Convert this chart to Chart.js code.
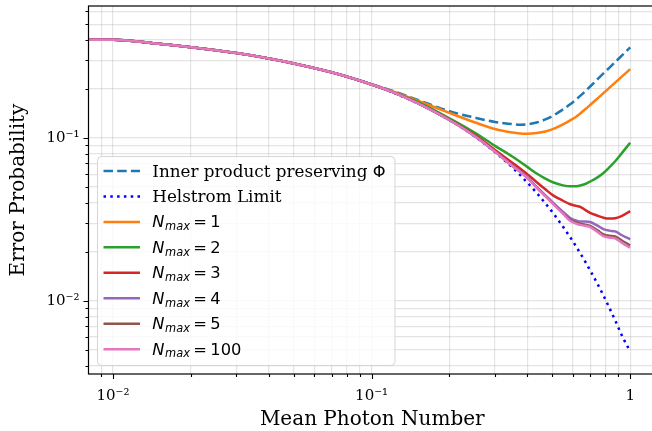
<!DOCTYPE html>
<html><head><meta charset="utf-8">
<script src="https://cdn.jsdelivr.net/npm/chart.js@4/dist/chart.umd.min.js"></script>
<style>html,body{margin:0;padding:0;background:#fff;overflow:hidden;}#wrap{width:656px;height:431px;}</style>
</head><body><div id="wrap"><canvas id="c" width="656" height="431"></canvas></div>
<script>
// ---- data ----
const photonNumbers = [0.008, 0.01, 0.015, 0.02, 0.03, 0.04, 0.05, 0.07, 0.1, 0.12, 0.15, 0.2, 0.25, 0.3, 0.35, 0.375, 0.4, 0.435, 0.47, 0.505, 0.55, 0.586, 0.62, 0.641, 0.67, 0.7, 0.75, 0.788, 0.83, 0.875, 0.93, 1.0];
const innerProductPhi = [0.401, 0.401, 0.379, 0.361, 0.332, 0.308, 0.287, 0.253, 0.214, 0.195, 0.172, 0.146, 0.1335, 0.1255, 0.1218, 0.1207, 0.1213, 0.1245, 0.130, 0.1375, 0.1498, 0.161, 0.1732, 0.1815, 0.1936, 0.2071, 0.2306, 0.249, 0.2698, 0.2924, 0.3215, 0.3596];
const helstromLimit = [0.401, 0.401, 0.379, 0.361, 0.332, 0.308, 0.287, 0.253, 0.213, 0.191, 0.164, 0.129, 0.1025, 0.082, 0.066, 0.0593, 0.0533, 0.046, 0.0397, 0.0344, 0.0285, 0.0246, 0.0214, 0.0196, 0.01745, 0.0154, 0.0126, 0.0108, 0.0091, 0.0076, 0.0061, 0.0049];
const nmax1 = [0.401, 0.401, 0.379, 0.361, 0.332, 0.308, 0.287, 0.253, 0.213, 0.194, 0.170, 0.1425, 0.125, 0.1135, 0.108, 0.1066, 0.1063, 0.1072, 0.1095, 0.1138, 0.1212, 0.1283, 0.1356, 0.1414, 0.150, 0.1594, 0.1757, 0.1885, 0.203, 0.2189, 0.2387, 0.2645];
const nmax2 = [0.401, 0.401, 0.379, 0.361, 0.332, 0.308, 0.287, 0.253, 0.213, 0.192, 0.167, 0.132, 0.108, 0.0895, 0.077, 0.0715, 0.0665, 0.0605, 0.0563, 0.0533, 0.0512, 0.0505, 0.0506, 0.0511, 0.0522, 0.054, 0.0575, 0.061, 0.066, 0.072, 0.081, 0.0935];
const nmax3 = [0.401, 0.401, 0.379, 0.361, 0.332, 0.308, 0.287, 0.253, 0.213, 0.192, 0.165, 0.1298, 0.1045, 0.0845, 0.0705, 0.065, 0.060, 0.0535, 0.0484, 0.0443, 0.0412, 0.0392, 0.0383, 0.0378, 0.0362, 0.0347, 0.0333, 0.0324, 0.0320, 0.0322, 0.0333, 0.0356];
const nmax4 = [0.401, 0.401, 0.379, 0.361, 0.332, 0.308, 0.287, 0.253, 0.213, 0.192, 0.1645, 0.129, 0.1032, 0.0828, 0.0678, 0.0624, 0.0575, 0.0500, 0.0445, 0.0398, 0.0352, 0.0323, 0.0311, 0.0307, 0.0307, 0.0305, 0.0289, 0.0276, 0.0270, 0.0267, 0.0253, 0.0239];
const nmax5 = [0.401, 0.401, 0.379, 0.361, 0.332, 0.308, 0.287, 0.253, 0.213, 0.192, 0.1643, 0.129, 0.103, 0.0826, 0.0675, 0.0622, 0.0572, 0.0497, 0.0441, 0.0394, 0.0346, 0.0315, 0.0302, 0.0298, 0.0294, 0.0289, 0.0270, 0.0256, 0.0251, 0.0249, 0.0234, 0.0219];
const nmax100 = [0.401, 0.401, 0.379, 0.361, 0.332, 0.308, 0.287, 0.253, 0.213, 0.192, 0.1642, 0.129, 0.103, 0.0825, 0.0673, 0.0620, 0.0570, 0.0495, 0.0439, 0.0392, 0.0343, 0.0310, 0.0297, 0.0293, 0.0289, 0.0284, 0.0264, 0.0250, 0.0245, 0.0242, 0.0227, 0.0212];
const nmaxValues = ['1', '2', '3', '4', '5', '100'];
const seriesLabels = ['Inner product preserving \u03A6', 'Helstrom Limit', 'N_max = 1', 'N_max = 2', 'N_max = 3', 'N_max = 4', 'N_max = 5', 'N_max = 100'];
const xTickValues = [0.009, 0.01, 0.02, 0.03, 0.04, 0.05, 0.06, 0.07, 0.08, 0.09, 0.1, 0.2, 0.3, 0.4, 0.5, 0.6, 0.7, 0.8, 0.9, 1];
const yTickValues = [0.004, 0.005, 0.006, 0.007, 0.008, 0.009, 0.01, 0.02, 0.03, 0.04, 0.05, 0.06, 0.07, 0.08, 0.09, 0.1, 0.2, 0.3, 0.4, 0.5, 0.6];
const majorTickLabels = {'0.01': '10\u207B\u00B2', '0.1': '10\u207B\u00B9', '1': '1'};
const xTitle = 'Mean Photon Number';
const yTitle = 'Error Probability';

// ---- styling ----
const SERIF = "'DejaVu Serif', serif";
const SANS = "'DejaVu Sans', sans-serif";
const LW = 2.5;
const styles = [
  {color: '#1f77b4', dash: [9.5, 4.2]},
  {color: '#0000ff', dash: [2.5, 4.3]},
  {color: '#ff7f0e', dash: []},
  {color: '#2ca02c', dash: []},
  {color: '#d62728', dash: []},
  {color: '#9467bd', dash: []},
  {color: '#8c564b', dash: []},
  {color: '#e377c2', dash: []}
];
const seriesData = [innerProductPhi, helstromLimit, nmax1, nmax2, nmax3, nmax4, nmax5, nmax100];

const datasets = seriesData.map((arr, i) => ({
  label: seriesLabels[i],
  data: arr.map((y, j) => ({x: photonNumbers[j], y: y})),
  borderColor: styles[i].color,
  borderDash: styles[i].dash,
  borderWidth: LW,
  borderCapStyle: 'butt',
  pointRadius: 0,
  fill: false,
  cubicInterpolationMode: 'monotone',
  order: seriesData.length - i
}));

const isMajor = v => Object.keys(majorTickLabels).some(k => Math.abs(parseFloat(k) - v) < 1e-12);
const labelFor = v => { for (const k in majorTickLabels) if (Math.abs(parseFloat(k) - v) < 1e-12) return majorTickLabels[k]; return ''; };
const gridCol = 'rgba(176,176,176,0.34)';

const mplDecor = {
  id: 'mplDecor',
  afterDatasetsDraw(chart) {
    const ctx = chart.ctx, a = chart.chartArea;
    const xs = chart.scales.x, ys = chart.scales.y;
    ctx.save();
    // spines
    ctx.strokeStyle = '#000'; ctx.lineWidth = 1.2;
    ctx.strokeRect(a.left, a.top, a.right - a.left, a.bottom - a.top);
    // tick marks
    ctx.lineWidth = 1.1;
    ctx.beginPath();
    xs.ticks.forEach(t => {
      const px = Math.round(xs.getPixelForValue(t.value)) + 0.5;
      const len = isMajor(t.value) ? 5 : 3;
      ctx.moveTo(px, a.bottom); ctx.lineTo(px, a.bottom + len);
    });
    ys.ticks.forEach(t => {
      const py = Math.round(ys.getPixelForValue(t.value)) + 0.5;
      const len = isMajor(t.value) ? 5 : 3;
      ctx.moveTo(a.left - len, py); ctx.lineTo(a.left, py);
    });
    ctx.stroke();

    // legend
    const bx = 97.5, by = 156.5, bw = 297.5, bh = 209, r = 4;
    ctx.beginPath();
    ctx.moveTo(bx + r, by); ctx.lineTo(bx + bw - r, by); ctx.arcTo(bx + bw, by, bx + bw, by + r, r);
    ctx.lineTo(bx + bw, by + bh - r); ctx.arcTo(bx + bw, by + bh, bx + bw - r, by + bh, r);
    ctx.lineTo(bx + r, by + bh); ctx.arcTo(bx, by + bh, bx, by + bh - r, r);
    ctx.lineTo(bx, by + r); ctx.arcTo(bx, by, bx + r, by, r);
    ctx.closePath();
    ctx.fillStyle = 'rgba(255,255,255,0.8)'; ctx.fill();
    ctx.strokeStyle = 'rgba(204,204,204,0.8)'; ctx.lineWidth = 1; ctx.stroke();

    const fSerif = 16.8, fSans = 16.3;
    chart.data.datasets.forEach((ds, i) => {
      const cy = 171 + i * 25.45;
      ctx.strokeStyle = ds.borderColor; ctx.lineWidth = LW; ctx.setLineDash(ds.borderDash); ctx.lineCap = 'butt';
      ctx.beginPath(); ctx.moveTo(103.5, cy); ctx.lineTo(140, cy); ctx.stroke();
      ctx.setLineDash([]);
      ctx.fillStyle = '#000'; ctx.textBaseline = 'alphabetic'; ctx.textAlign = 'left';
      const base = cy + 5.5;
      let x = 152.3;
      if (i === 0) {
        ctx.font = fSerif + 'px ' + SERIF;
        const t = 'Inner product preserving ';
        ctx.fillText(t, x, base); x += ctx.measureText(t).width;
        ctx.font = fSans + 'px ' + SANS;
        ctx.fillText('\u03A6', x, base);
      } else if (i === 1) {
        ctx.font = fSerif + 'px ' + SERIF;
        ctx.fillText('Helstrom Limit', x, base);
      } else {
        ctx.font = 'italic ' + fSans + 'px ' + SANS;
        ctx.fillText('N', x, base); x += ctx.measureText('N').width + 0.6;
        ctx.font = 'italic ' + (fSans * 0.7) + 'px ' + SANS;
        ctx.fillText('max', x, base + 2.8); x += ctx.measureText('max').width + 3.4;
        ctx.font = fSans + 'px ' + SANS;
        ctx.fillText('=', x, base); x += ctx.measureText('=').width + 3.4;
        ctx.fillText(nmaxValues[i - 2], x, base);
      }
    });
    ctx.restore();
  }
};

new Chart(document.getElementById('c'), {
  type: 'line',
  data: {datasets: datasets},
  plugins: [mplDecor],
  options: {
    responsive: false,
    animation: false,
    devicePixelRatio: 1,
    layout: {padding: {left: 0, right: 0, top: 6, bottom: 0}},
    plugins: {legend: {display: false}, tooltip: {enabled: false}},
    scales: {
      x: {
        type: 'logarithmic',
        min: 0.008039, max: 1.2585,
        afterBuildTicks: s => { s.ticks = xTickValues.map(v => ({value: v})); },
        afterFit: s => { s.height = 57; s.paddingLeft = 0; s.paddingRight = 0; },
        ticks: {autoSkip: false, maxRotation: 0, minRotation: 0, padding: 13, color: '#000',
                font: {family: SERIF, size: 15}, callback: v => labelFor(v)},
        grid: {color: gridCol, lineWidth: 1.2, drawTicks: false},
        border: {display: false},
        title: {display: true, text: xTitle, color: '#000', font: {family: SERIF, size: 20, lineHeight: 1.1}, padding: {top: 0, bottom: 0}}
      },
      y: {
        type: 'logarithmic',
        min: 0.00356, max: 0.646,
        afterBuildTicks: s => { s.ticks = yTickValues.map(v => ({value: v})); },
        afterFit: s => { s.width = 88.5; s.paddingTop = 0; s.paddingBottom = 0; },
        ticks: {autoSkip: false, padding: 9, color: '#000',
                font: {family: SERIF, size: 15}, callback: v => labelFor(v)},
        grid: {color: gridCol, lineWidth: 1.2, drawTicks: false},
        border: {display: false},
        title: {display: true, text: yTitle, color: '#000', font: {family: SERIF, size: 20}, padding: {top: 7, bottom: 0}}
      }
    }
  }
});
</script>
</body></html>
